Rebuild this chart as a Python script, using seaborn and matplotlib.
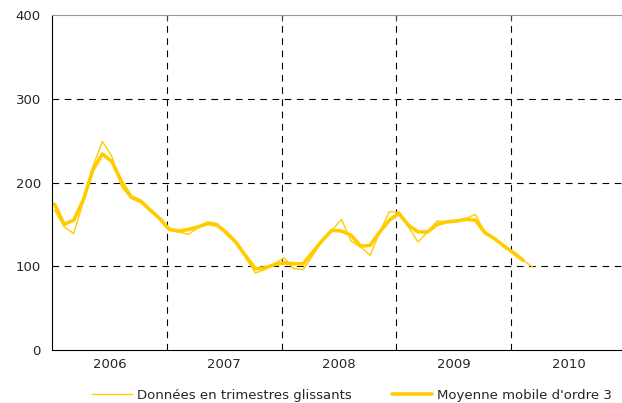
import seaborn as sns
import pandas as pd
import matplotlib.pyplot as plt

# Monthly series, Jan 2006 onwards
years = ['2006', '2007', '2008', '2009', '2010']
glissants = [167, 147, 139, 177, 219, 249, 231, 195, 181, 176, 167, 155,
             143, 141, 138, 146, 153, 151, 137, 128, 110, 92, 96, 103,
             110, 97, 96, 113, 131, 143, 156, 130, 123, 113, 141, 165,
             165, 147, 129, 141, 154, 153, 153, 157, 162, 140, 132, 124,
             116, 107, 99]
moyenne = [174, 150, 155, 179, 215, 234, 225, 201, 183, 178, 167, 157,
           144, 142, 144, 147, 151, 149, 140, 128, 112, 97, 98, 102,
           104, 103, 103, 117, 131, 143, 142, 137, 124, 125, 141, 155,
           163, 149, 141, 141, 150, 153, 154, 156, 155, 140, 133, 124,
           116, 107]

df1 = pd.DataFrame({'mois': [i + 0.27 for i in range(len(glissants))], 'val': glissants})
df2 = pd.DataFrame({'mois': [i + 0.27 for i in range(len(moyenne))], 'val': moyenne})

sns.set_style("white")
plt.rcParams['font.family'] = ['DejaVu Sans']

fig = plt.figure(figsize=(6.22, 4.03), dpi=100)
ax = fig.add_axes([52 / 622, 53 / 403, 570 / 622, 335 / 403])

color = '#FFCC00'
sns.lineplot(data=df1, x='mois', y='val', ax=ax, color=color, linewidth=1,
             label='Données en trimestres glissants')
sns.lineplot(data=df2, x='mois', y='val', ax=ax, color=color, linewidth=2.6,
             label="Moyenne mobile d'ordre 3")

ax.set_xlim(0, 59.6)
ax.set_ylim(0, 400)
ax.set_yticks([0, 100, 200, 300, 400])
ax.set_xticks([12, 24, 36, 48])
ax.set_xticklabels([])
ax.set_xticks([6, 18, 30, 42, 54], minor=True)
ax.set_xticklabels(years, minor=True)
ax.tick_params(axis='x', which='minor', length=0, pad=6, labelsize=9.5)
ax.tick_params(axis='x', which='major', length=4, direction='in', top=True, color='#444444')
ax.tick_params(axis='y', length=0, pad=8, labelsize=9.5)
ax.set_xlabel('')
ax.set_ylabel('')

for y in [100, 200, 300]:
    ax.axhline(y, color='black', linestyle=(0, (6, 5)), linewidth=0.8, zorder=0)
for x in [12, 24, 36, 48]:
    ax.axvline(x, color='black', linestyle=(0, (6, 5)), linewidth=0.8, zorder=0)

ax.spines['right'].set_visible(False)
ax.spines['top'].set_color('#999999')
ax.spines['left'].set_color('black')
ax.spines['bottom'].set_color('black')

ax.legend(loc='upper center', bbox_to_anchor=(0.526, -0.08), ncol=2, frameon=False,
          fontsize=9.5, handlelength=3.0, columnspacing=3.1, handletextpad=0.38)

plt.savefig('out.png', dpi=100)
